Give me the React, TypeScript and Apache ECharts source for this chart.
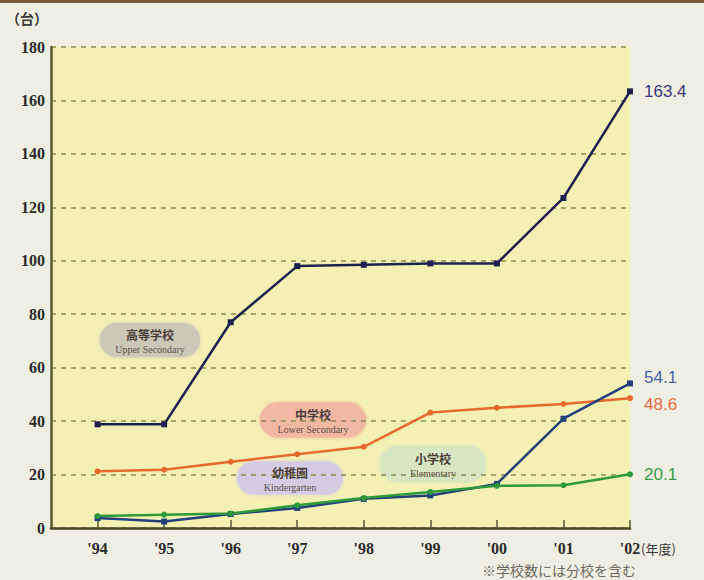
import React, { useEffect, useRef } from "react";
import * as echarts from "echarts";

const years = [1994, 1995, 1996, 1997, 1998, 1999, 2000, 2001, 2002];
const upperSecondary = [38.8, 38.8, 77, 98, 98.5, 99, 99, 123.5, 163.4];
const lowerSecondary = [21.2, 21.8, 24.8, 27.6, 30.4, 43.2, 45.0, 46.4, 48.6];
const kindergarten = [3.7, 2.4, 5.2, 7.5, 10.9, 12.2, 16.5, 40.9, 54.1];
const elementary = [4.5, 5.0, 5.4, 8.5, 11.2, 13.5, 15.8, 16.0, 20.1];
const yTicks = [0, 20, 40, 60, 80, 100, 120, 140, 160, 180];

const serif = "'Liberation Serif', 'DejaVu Serif', serif";
const sans = "'Liberation Sans', Arial, sans-serif";
const cjk = "'Noto Sans CJK JP', sans-serif";

function pairs(vals: number[]) {
  return years.map((y, i) => [y, vals[i]]);
}

function mkSeries(name: string, vals: number[], color: string, labelColor: string, symbol: string, offset: number[]) {
  return {
    name,
    type: "line",
    data: pairs(vals),
    symbol,
    symbolSize: 6,
    lineStyle: { color, width: 2.5 },
    itemStyle: { color },
    endLabel: {
      show: true,
      formatter: (p: any) => String(p.value[1]),
      color: labelColor,
      fontSize: 17,
      fontFamily: sans,
      offset,
    },
    z: 3,
  };
}

function tag(cx: number, cy: number, w: number, h: number, fill: string, jp: string, en: string) {
  return {
    type: "group",
    x: cx,
    y: cy,
    children: [
      {
        type: "rect",
        shape: { x: -w / 2, y: -h / 2, width: w, height: h, r: h / 2 },
        style: { fill, shadowBlur: 4, shadowColor: fill },
      },
      {
        type: "text",
        x: 0,
        y: -6,
        style: { text: jp, fill: "#4a4038", font: `bold 12px ${cjk}`, align: "center", verticalAlign: "middle" },
      },
      {
        type: "text",
        x: 0,
        y: 9,
        style: { text: en, fill: "#5a5048", font: `10px ${serif}`, align: "center", verticalAlign: "middle" },
      },
    ],
  };
}

export default function App() {
  const ref = useRef<HTMLDivElement>(null);
  useEffect(() => {
    document.body.style.margin = "0";
    const chart = echarts.init(ref.current!, null, { renderer: "svg" });
    chart.setOption({
      animation: false,
      backgroundColor: "#efeee2",
      grid: {
        left: 51,
        right: 74,
        top: 47,
        bottom: 52,
        show: true,
        backgroundColor: "#f4f0b4",
        borderWidth: 0,
      },
      xAxis: {
        type: "value",
        min: 1993.3,
        max: 2002,
        splitLine: { show: false },
        axisLine: { show: true, lineStyle: { color: "#4a4528", width: 2.5 } },
        axisTick: {
          show: true,
          inside: true,
          length: 8,
          customValues: years,
          lineStyle: { color: "#5a5530", width: 1.5 },
        },
        axisLabel: {
          customValues: years,
          formatter: (v: number) => "'" + String(v).slice(2),
          color: "#2a2a2a",
          fontFamily: serif,
          fontWeight: "bold",
          fontSize: 16,
          margin: 12,
        },
      },
      yAxis: {
        type: "value",
        min: 0,
        max: 180,
        interval: 20,
        axisLine: { show: true, lineStyle: { color: "#5a5a30", width: 2.5 } },
        axisTick: { show: false },
        axisLabel: {
          color: "#2a2a2a",
          fontFamily: serif,
          fontWeight: "bold",
          fontSize: 16,
          margin: 6,
          customValues: yTicks,
        },
        splitLine: {
          show: true,
          lineStyle: { color: "#8c8a4c", type: [5, 5], width: 1.5 },
        },
      },
      series: [
        mkSeries("高等学校", upperSecondary, "#1e2150", "#3a3878", "rect", [6, 0]),
        mkSeries("中学校", lowerSecondary, "#e66a2c", "#e86a48", "circle", [6, 6]),
        mkSeries("幼稚園", kindergarten, "#24407c", "#4565aa", "rect", [6, -6]),
        mkSeries("小学校", elementary, "#2e9a3a", "#3c9a4c", "circle", [6, 0]),
      ],
      graphic: [
        { type: "rect", shape: { x: 0, y: 0, width: 704, height: 3 }, style: { fill: "#7a5a3c" } },
        {
          type: "text",
          x: 6,
          y: 18,
          style: { text: "（台）", fill: "#3a3a3a", font: `bold 14px ${cjk}`, verticalAlign: "middle" },
        },
        {
          type: "text",
          x: 641,
          y: 548,
          style: { text: "(年度)", fill: "#3a3a3a", font: `13px ${cjk}`, verticalAlign: "middle" },
        },
        {
          type: "text",
          x: 636,
          y: 570,
          style: { text: "※学校数には分校を含む", fill: "#6a6a60", font: `14px ${cjk}`, align: "right", verticalAlign: "middle" },
        },
        tag(150, 340, 100, 34, "#cbc8b8", "高等学校", "Upper Secondary"),
        tag(313, 420, 106, 35, "#f2b8a4", "中学校", "Lower Secondary"),
        tag(290, 478, 106, 33, "#d4cce2", "幼稚園", "Kindergarten"),
        tag(433, 464, 106, 37, "#d8e6c4", "小学校", "Elementary"),
      ],
    });
    return () => chart.dispose();
  }, []);
  return <div ref={ref} style={{ width: 704, height: 580 }} />;
}
